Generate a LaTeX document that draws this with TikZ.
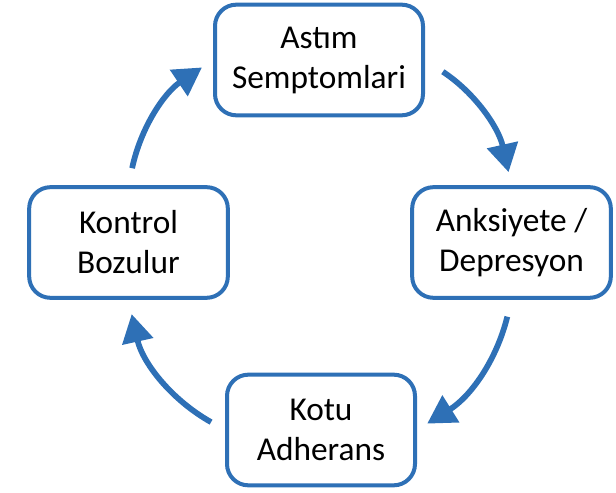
\documentclass[tikz,border=0pt]{standalone}
\usepackage{fontspec}
\setmainfont{Carlito}
\usetikzlibrary{arrows.meta}
\definecolor{cycleblue}{RGB}{46,112,182}

\begin{document}
\begin{tikzpicture}[
  x=0.75pt, y=0.75pt,
  font=\fontsize{25}{30}\selectfont,
  >={Triangle[length=21pt, width=23pt]},
  box/.style={draw=cycleblue, line width=3pt, rounded corners=16pt,
    align=center, minimum height=83pt, fill=white},
  cyc/.style={->, draw=cycleblue, line width=4.3pt},
]
  \useasboundingbox (0,0) rectangle (616,492);

  \node[box, minimum width=156pt] (symptoms) at (319,432)
    {Ast\i m\\Semptomlari};
  \node[box, minimum width=149pt] (anxiety) at (511.5,249.5)
    {Anksiyete /\\Depresyon};
  \node[box, minimum width=141pt] (adherence) at (321,62)
    {Kotu\\Adherans};
  \node[box, minimum width=149pt] (control) at (128.5,249.5)
    {Kontrol\\Bozulur};

  \draw[cyc, shorten <=16pt, shorten >=10pt]
    (symptoms.east) to[bend left=22] (anxiety.north);
  \draw[cyc, shorten <=13pt, shorten >=9pt]
    (anxiety.south) to[bend left=22] (adherence.east);
  \draw[cyc, shorten <=12pt, shorten >=11pt]
    (adherence.west) to[bend left=24] (control.south);
  \draw[cyc, shorten <=13pt, shorten >=10pt]
    (control.north) to[bend left=22] (symptoms.west);
\end{tikzpicture}
\end{document}
